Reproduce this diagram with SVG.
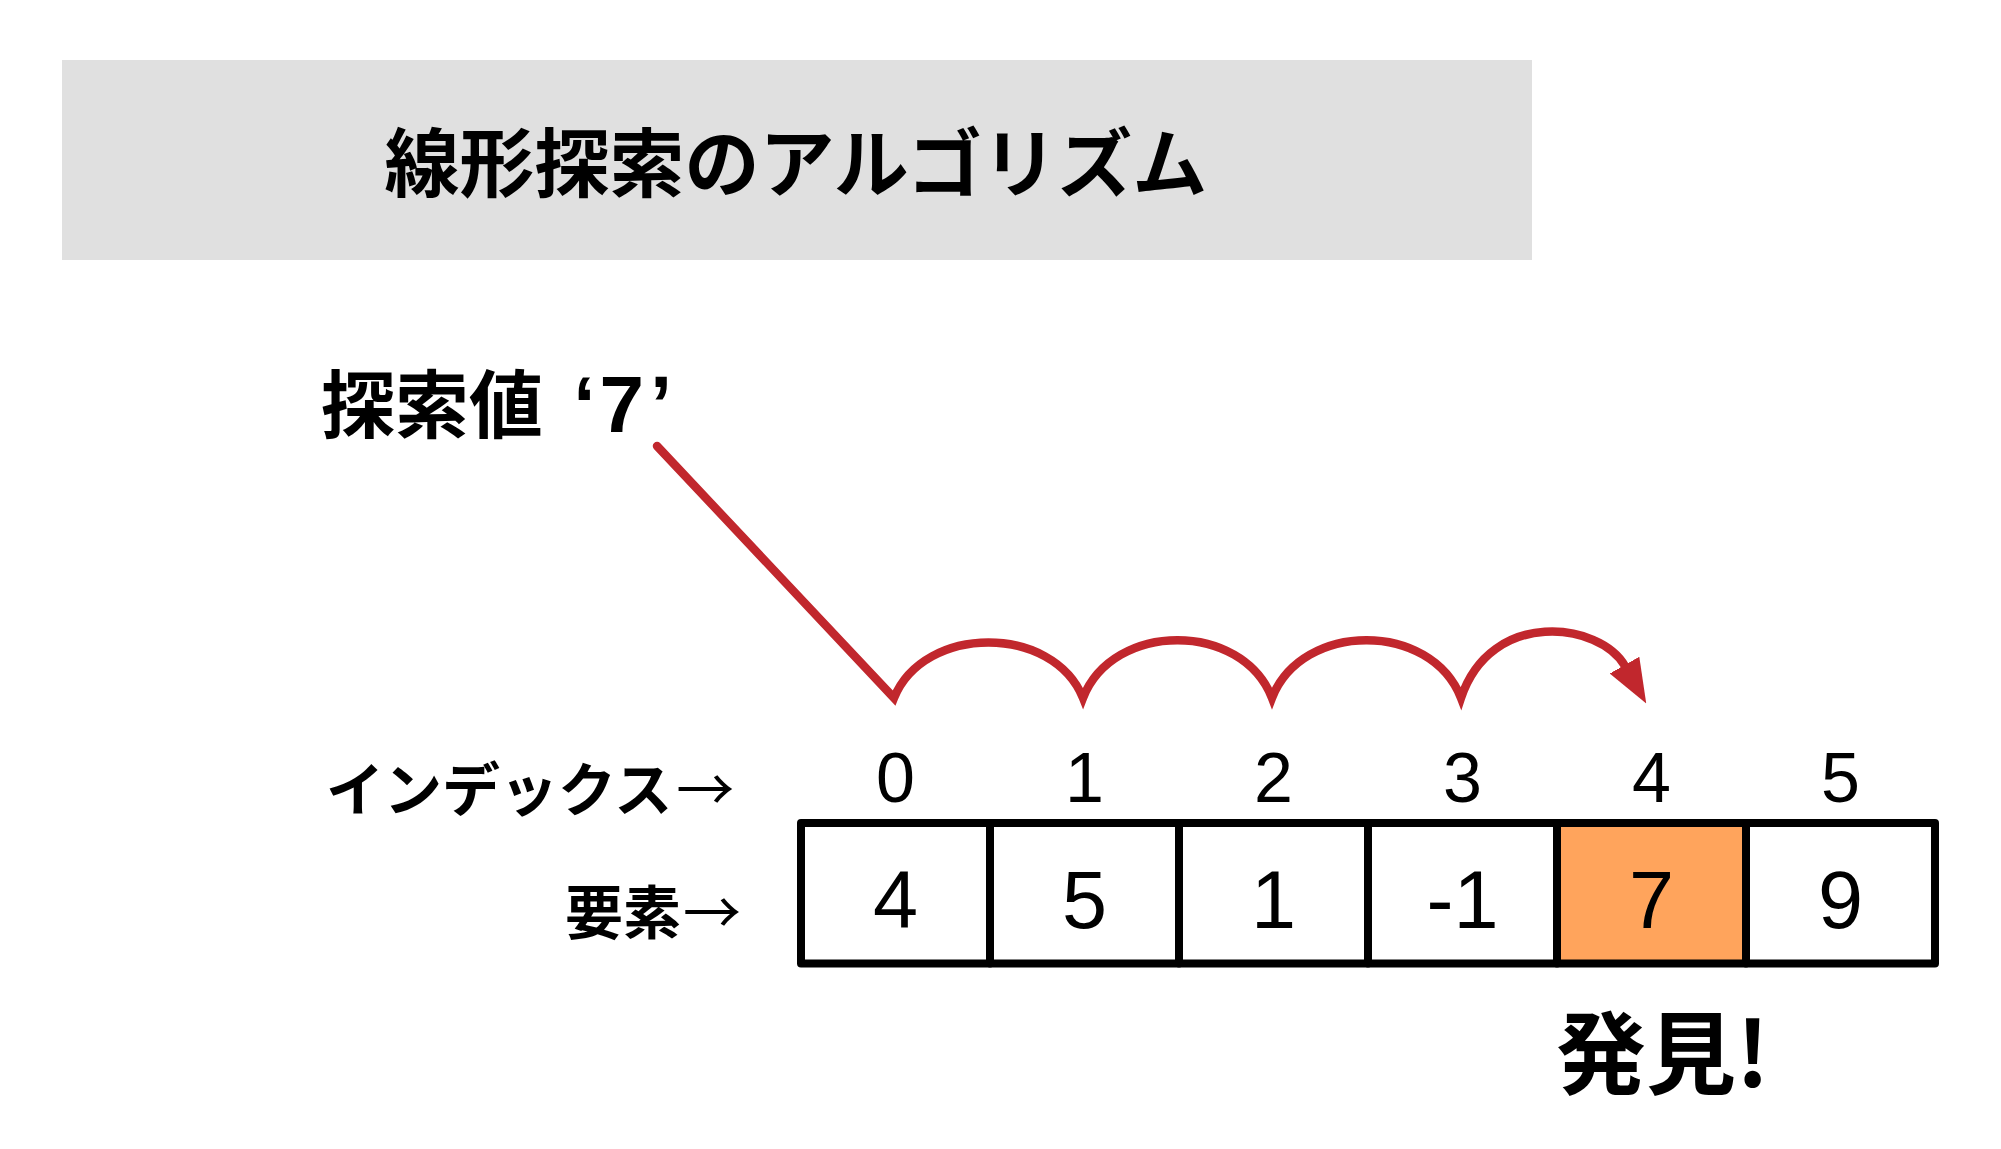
<svg xmlns="http://www.w3.org/2000/svg" width="2001" height="1149" viewBox="0 0 2001 1149">
  <style>
    .jp { font-family: "Noto Sans CJK JP", "Noto Sans CJK SC", sans-serif; font-weight: 700; fill: #000; }
    .num { font-family: "Liberation Sans", Arial, sans-serif; fill: #000; text-anchor: middle; }
    .idx { font-size: 70px; }
    .val { font-size: 81px; }
    .cell { fill: #fff; stroke: #000; stroke-width: 8; stroke-linejoin: round; }
    .conn { fill: none; stroke: #C1272D; stroke-width: 8.5; stroke-linecap: round; stroke-linejoin: miter; }
  </style>
  <defs>
    <marker id="arrow" markerUnits="userSpaceOnUse" markerWidth="44" markerHeight="34" viewBox="0 0 44 34" refX="1" refY="17" orient="auto">
      <path d="M0,0 L44,17 L0,34 z" fill="#C1272D"/>
    </marker>
  </defs>
  <rect width="2001" height="1149" fill="#fff"/>

  <g id="title">
    <rect x="62" y="60" width="1470" height="200" fill="#E0E0E0"/>
    <text class="jp" x="796" y="191" font-size="75" text-anchor="middle">線形探索のアルゴリズム</text>
  </g>

  <g id="search-value">
    <text class="jp" x="321" y="432" font-size="74">探索値<tspan font-family="Liberation Sans, Arial, sans-serif" font-size="80" dx="8"> ‘</tspan><tspan font-family="Liberation Sans, Arial, sans-serif" font-size="80" dx="4">7</tspan><tspan font-family="Liberation Sans, Arial, sans-serif" font-size="80" dx="6">’</tspan></text>
  </g>

  <g id="label-index">
    <text class="jp" x="326" y="811" font-size="58">インデックス<tspan font-weight="400" dx="4">→</tspan></text>
  </g>
  <g id="label-element">
    <text class="jp" x="565" y="934" font-size="58">要素<tspan font-weight="400" dx="2">→</tspan></text>
  </g>

  <g id="indices">
    <text class="num idx" x="895.5" y="802">0</text>
    <text class="num idx" x="1084.5" y="802">1</text>
    <text class="num idx" x="1273.5" y="802">2</text>
    <text class="num idx" x="1462.5" y="802">3</text>
    <text class="num idx" x="1651.5" y="802">4</text>
    <text class="num idx" x="1840.5" y="802">5</text>
  </g>

  <g id="cell-0">
    <rect class="cell" x="801" y="823" width="189" height="140.5"/>
    <text class="num val" x="895.5" y="928">4</text>
  </g>
  <g id="cell-1">
    <rect class="cell" x="990" y="823" width="189" height="140.5"/>
    <text class="num val" x="1084.5" y="928">5</text>
  </g>
  <g id="cell-2">
    <rect class="cell" x="1179" y="823" width="189" height="140.5"/>
    <text class="num val" x="1273.5" y="928">1</text>
  </g>
  <g id="cell-3">
    <rect class="cell" x="1368" y="823" width="189" height="140.5"/>
    <text class="num val" x="1462.5" y="928">-1</text>
  </g>
  <g id="cell-4">
    <rect class="cell" x="1557" y="823" width="189" height="140.5" style="fill:#FFA45C"/>
    <text class="num val" x="1651.5" y="928">7</text>
  </g>
  <g id="cell-5">
    <rect class="cell" x="1746" y="823" width="189" height="140.5"/>
    <text class="num val" x="1840.5" y="928">9</text>
  </g>

  <g id="found">
    <text class="jp" x="1556" y="1087" font-size="90">発見!</text>
  </g>

  <g id="connectors">
    <path class="conn" d="M657,446 L894,698 C924,624 1053,624 1083,698 C1113,621 1242,621 1272,698 C1302,621 1431,621 1461,698 C1491,608 1600,622 1625,666" marker-end="url(#arrow)"/>
  </g>
</svg>
